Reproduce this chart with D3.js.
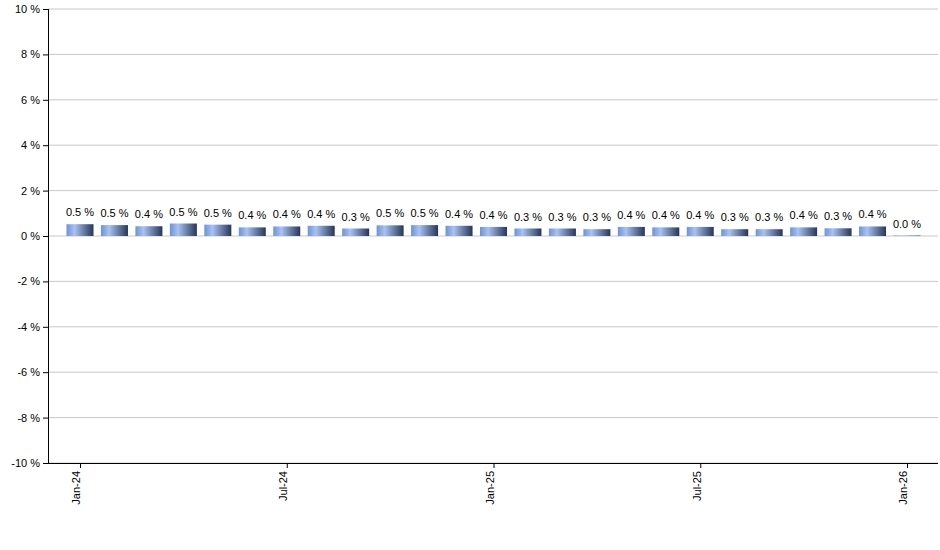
<!DOCTYPE html><html><head><script src="https://cdn.jsdelivr.net/npm/d3@7"></script>
<style>body{margin:0;background:#fff}text{font-family:Arial,"Liberation Sans",sans-serif;font-size:11px}</style></head><body><svg id="c" width="940" height="550"></svg>
<script>
const months=["Jan-24","Feb-24","Mar-24","Apr-24","May-24","Jun-24","Jul-24","Aug-24","Sep-24","Oct-24","Nov-24","Dec-24","Jan-25","Feb-25","Mar-25","Apr-25","May-25","Jun-25","Jul-25","Aug-25","Sep-25","Oct-25","Nov-25","Dec-25","Jan-26"];
const values=[0.52,0.48,0.43,0.55,0.50,0.38,0.42,0.45,0.33,0.47,0.48,0.45,0.40,0.33,0.33,0.30,0.40,0.38,0.40,0.30,0.30,0.38,0.34,0.42,0.02];
const labels=["0.5","0.5","0.4","0.5","0.5","0.4","0.4","0.4","0.3","0.5","0.5","0.4","0.4","0.3","0.3","0.3","0.4","0.4","0.4","0.3","0.3","0.4","0.3","0.4","0.0"];
const yTicks=[-10,-8,-6,-4,-2,0,2,4,6,8,10];
const tickMonths=["Jan-24","Jul-24","Jan-25","Jul-25","Jan-26"];
const svg=d3.select("#c");
const L=48,R=938,T=9,B=463;
const y=d3.scaleLinear().domain([-10,10]).range([B,T]);
const x=d3.scalePoint().domain(months).range([80,907]);
const g=svg.append("defs").append("linearGradient").attr("id","gr");
[[0,"#6d92d6"],[0.3,"#a8c2f2"],[1,"#26365a"]].forEach(s=>g.append("stop").attr("offset",s[0]).attr("stop-color",s[1]));
svg.append("g").selectAll("line").data(yTicks).join("line").attr("x1",L).attr("x2",R).attr("y1",d=>y(d)).attr("y2",d=>y(d)).attr("stroke","#c8c8c8");
const bw=27;
svg.append("g").selectAll("rect").data(values).join("rect").attr("x",(d,i)=>x(months[i])-bw/2).attr("width",bw)
 .attr("y",d=>y(d)).attr("height",d=>y(0)-y(d)).attr("fill","url(#gr)");
svg.append("g").selectAll("text").data(labels).join("text").attr("x",(d,i)=>x(months[i])).attr("y",(d,i)=>y(values[i])-8)
 .attr("text-anchor","middle").text(d=>d+" %");
const ya=svg.append("g").attr("transform",`translate(${L},0)`).call(d3.axisLeft(y).tickValues(yTicks).tickSize(5).tickFormat(d=>d+" %"));
const xa=svg.append("g").attr("transform",`translate(0,${B})`).call(d3.axisBottom(x).tickValues(tickMonths).tickSize(5).tickSizeOuter(0));
xa.select(".domain").attr("d",`M${L},0.5H${R}`);
xa.selectAll("text").attr("transform","rotate(-90)").attr("text-anchor","end").attr("x",-8).attr("y",-4).attr("dy","0.35em");
[ya,xa].forEach(a=>{a.selectAll("path,line").attr("stroke","#000");a.selectAll("text").attr("fill","#000").style("font-size","11px");});
ya.select(".domain").attr("d",`M0.5,${T}V${B}`);
</script></body></html>
